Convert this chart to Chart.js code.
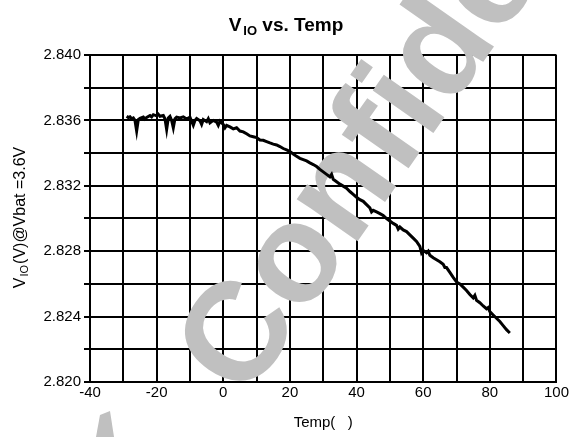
<!DOCTYPE html>
<html>
<head>
<meta charset="utf-8">
<script src="https://cdn.jsdelivr.net/npm/chart.js@4"></script>
<style>
html,body{margin:0;padding:0;background:#fff;}
#wrap{width:571px;height:437px;position:relative;}
</style>
</head>
<body>
<div id="wrap"><canvas id="c" width="571" height="437"></canvas></div>
<script>
// ---- data ----
const temps = [
 -29,-28.5,-28,-27.5,-27,-26.5,-26,-25.5,-25,-24,-23.5,-23,-22,-21.5,-21,-20,-19.5,-19,-18,-17.5,
 -17,-16.5,-16,-15.5,-15,-14.5,-14,-13,-12,-11,-10,-9.5,-9,-8.5,-8,-7,-6.5,-6,-5,-4.5,
 -4,-3,-2,-1.5,-1,0,0.5,1,2,3,4,5,6,7,8,9,10,11,12,13,
 14,15,16,17,18,19,20,21,22,23,24,25,26,27,28,29,30,31,32,32.5,
 33,34,35,36,37,38,39,40,41,42,43,44,44.5,45,46,47,48,49,50,51,
 52,52.5,53,54,55,56,57,58,59,59.5,60,61,61.5,62,63,64,65,66,66.5,67,
 68,69,70,71,72,73,74,75,75.5,76,77,78,79,79.5,80,81,82,83,84,85,86
];
const vio = [
 2.83625,2.83618,2.83622,2.83610,2.83615,2.83600,2.83535,2.83605,2.83612,2.83620,2.83608,2.83618,2.83630,2.83622,2.83635,2.83628,2.83638,2.83625,2.83630,2.83610,
 2.83545,2.83615,2.83625,2.83600,2.83555,2.83610,2.83620,2.83615,2.83622,2.83608,2.83620,2.83595,2.83570,2.83600,2.83612,2.83598,2.83575,2.83605,2.83592,2.83610,
 2.83585,2.83600,2.83590,2.83570,2.83595,2.83575,2.83555,2.83570,2.83560,2.83548,2.83555,2.83535,2.83530,2.83518,2.83505,2.83500,2.83495,2.83480,2.83478,2.83470,
 2.83462,2.83455,2.83450,2.83440,2.83428,2.83420,2.83410,2.83395,2.83380,2.83368,2.83360,2.83352,2.83340,2.83330,2.83318,2.83300,2.83285,2.83270,2.83255,2.83270,
 2.83240,2.83225,2.83210,2.83198,2.83185,2.83165,2.83148,2.83130,2.83115,2.83105,2.83085,2.83065,2.83040,2.83050,2.83040,2.83030,2.83018,2.83000,2.82985,2.82970,
 2.82958,2.82935,2.82948,2.82930,2.82920,2.82900,2.82880,2.82860,2.82830,2.82790,2.82805,2.82790,2.82800,2.82775,2.82760,2.82748,2.82735,2.82720,2.82700,2.82700,
 2.82670,2.82640,2.82612,2.82600,2.82580,2.82560,2.82535,2.82515,2.82530,2.82500,2.82485,2.82465,2.82448,2.82455,2.82430,2.82410,2.82390,2.82370,2.82345,2.82320,2.82300
];
const yTickLabels = ['2.820','2.824','2.828','2.832','2.836','2.840'];
const xTickLabels = ['-40','-20','0','20','40','60','80','100'];
const titleMain = 'V';
const titleSub = 'IO';
const titleRest = ' vs. Temp';
const yTitleMain = 'V';
const yTitleSub = 'IO';
const yTitleRest = '(V)@Vbat =3.6V';
const xTitle = 'Temp(   )';
const watermark = 'Confidential';

const FONT = '"Liberation Sans", Arial, sans-serif';
const points = temps.map((t, i) => ({x: t, y: vio[i]}));

const watermarkPlugin = {
  id: 'wm',
  beforeDatasetsDraw(chart) {
    const ctx = chart.ctx;
    ctx.save();
    ctx.fillStyle = 'rgb(192,192,192)';
    // small fragment near the bottom-left
    ctx.beginPath();
    ctx.moveTo(96, 437); ctx.lineTo(100, 415); ctx.lineTo(110, 411); ctx.lineTo(114, 437);
    ctx.closePath(); ctx.fill();
    ctx.font = 'bold 140px ' + FONT;
    ctx.translate(245, 402);
    ctx.rotate(-55 * Math.PI / 180);
    ctx.textBaseline = 'alphabetic';
    ctx.fillText(watermark, 0, 0);
    ctx.restore();
  }
};

const textPlugin = {
  id: 'texts',
  afterDraw(chart) {
    const ctx = chart.ctx;
    ctx.save();
    ctx.fillStyle = '#000';
    ctx.textBaseline = 'alphabetic';
    // title
    const fMain = 'bold 19px ' + FONT, fSub = 'bold 13px ' + FONT;
    ctx.font = fMain; const w1 = ctx.measureText(titleMain).width;
    const w3 = ctx.measureText(titleRest).width;
    ctx.font = fSub; const w2 = ctx.measureText(titleSub).width + 2;
    let x = 286 - (w1 + w2 + w3) / 2;
    const by = 31;
    ctx.font = fMain; ctx.fillText(titleMain, x, by); x += w1 + 2;
    ctx.font = fSub; ctx.fillText(titleSub, x, by + 4); x += w2 - 2;
    ctx.font = fMain; ctx.fillText(titleRest, x, by);
    // y title
    ctx.translate(25, 218);
    ctx.rotate(-Math.PI / 2);
    const gMain = '16px ' + FONT, gSub = '11px ' + FONT;
    ctx.font = gMain; const a1 = ctx.measureText(yTitleMain).width;
    const a3 = ctx.measureText(yTitleRest).width;
    ctx.font = gSub; const a2 = ctx.measureText(yTitleSub).width + 1;
    let yx = -(a1 + a2 + a3) / 2;
    ctx.font = gMain; ctx.fillText(yTitleMain, yx, 0); yx += a1 + 1;
    ctx.font = gSub; ctx.fillText(yTitleSub, yx, 3); yx += a2;
    ctx.font = gMain; ctx.fillText(yTitleRest, yx, 0);
    ctx.restore();
  }
};

new Chart(document.getElementById('c'), {
  type: 'scatter',
  data: {
    datasets: [{
      data: points,
      showLine: true,
      borderColor: '#000',
      backgroundColor: '#000',
      borderWidth: 3,
      pointRadius: 0,
      tension: 0
    }]
  },
  options: {
    responsive: false,
    animation: false,
    events: [],
    layout: {padding: {top: 55, right: 14, left: 0, bottom: 0}},
    plugins: {legend: {display: false}, title: {display: false}, tooltip: {enabled: false}},
    scales: {
      x: {
        type: 'linear', min: -40, max: 100,
        afterFit(s) { s.height = 55; },
        ticks: {
          stepSize: 10, color: '#000', padding: 2, maxRotation: 0, autoSkip: false,
          font: {family: FONT, size: 15},
          callback(v) { const s = String(Math.round(v)); return xTickLabels.includes(s) ? s : ''; }
        },
        grid: {color: '#000', lineWidth: 2, drawTicks: false},
        border: {color: '#000', width: 2},
        title: {display: true, text: xTitle, color: '#000', font: {family: FONT, size: 15}, padding: {top: 3, bottom: 5}}
      },
      y: {
        type: 'linear', min: 2.820, max: 2.840,
        afterFit(s) { s.width = 90; },
        ticks: {
          stepSize: 0.002, color: '#000', padding: 3, autoSkip: false,
          font: {family: FONT, size: 15},
          callback(v) { const s = Number(v).toFixed(3); return yTickLabels.includes(s) ? s : ''; }
        },
        grid: {color: '#000', lineWidth: 2, tickLength: 6},
        border: {color: '#000', width: 2}
      }
    }
  },
  plugins: [watermarkPlugin, textPlugin]
});
</script>
</body>
</html>
